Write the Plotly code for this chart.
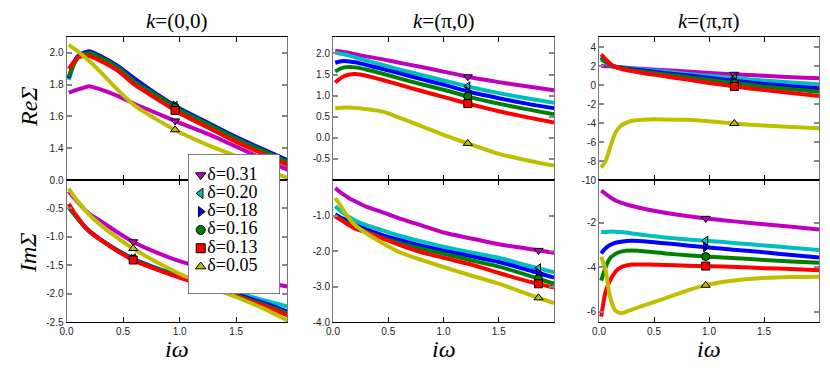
import numpy as np
import plotly.graph_objects as go

# Matsubara frequency grid (iw) shared by every curve
W = [0.02, 0.06, 0.1, 0.15, 0.2, 0.3, 0.45, 0.6, 0.8, 1.0, 1.25, 1.5, 1.75, 2.0]

DELTAS = ["0.31", "0.20", "0.18", "0.16", "0.13", "0.05"]
COLORS = ["#bf00bf", "#00bfbf", "#0000ff", "#008000", "#ff0000", "#bfbf00"]
SYMBOLS = ["triangle-down", "triangle-left", "triangle-right", "circle", "square", "triangle-up"]

# Re Sigma, k=(0,0); rows follow DELTAS
re_00 = [
    [1.75, 1.76, 1.77, 1.78, 1.79, 1.77, 1.73, 1.68, 1.62, 1.56, 1.49, 1.41, 1.33, 1.25],
    [1.83, 1.92, 1.97, 1.99, 2.00, 1.97, 1.91, 1.83, 1.73, 1.65, 1.56, 1.47, 1.38, 1.30],
    [1.84, 1.93, 1.98, 2.00, 2.01, 1.98, 1.92, 1.84, 1.74, 1.65, 1.56, 1.47, 1.39, 1.31],
    [1.85, 1.92, 1.97, 1.99, 2.00, 1.97, 1.91, 1.82, 1.73, 1.64, 1.55, 1.46, 1.38, 1.30],
    [1.90, 1.94, 1.97, 1.98, 1.98, 1.95, 1.89, 1.80, 1.71, 1.62, 1.53, 1.44, 1.36, 1.28],
    [2.05, 2.03, 2.01, 1.98, 1.95, 1.88, 1.77, 1.67, 1.58, 1.50, 1.42, 1.35, 1.27, 1.20],
]
# Im Sigma, k=(0,0)
im_00 = [
    [-0.20, -0.30, -0.39, -0.50, -0.59, -0.72, -0.92, -1.10, -1.28, -1.43, -1.57, -1.69, -1.80, -1.89],
    [-0.46, -0.57, -0.67, -0.79, -0.89, -1.04, -1.23, -1.39, -1.55, -1.68, -1.83, -1.98, -2.12, -2.25],
    [-0.48, -0.58, -0.68, -0.80, -0.90, -1.05, -1.24, -1.40, -1.56, -1.70, -1.86, -2.01, -2.17, -2.35],
    [-0.48, -0.58, -0.68, -0.80, -0.90, -1.05, -1.25, -1.41, -1.57, -1.71, -1.87, -2.03, -2.20, -2.38],
    [-0.42, -0.55, -0.66, -0.80, -0.90, -1.05, -1.25, -1.42, -1.58, -1.72, -1.88, -2.05, -2.22, -2.42],
    [-0.15, -0.27, -0.38, -0.50, -0.61, -0.79, -1.02, -1.22, -1.45, -1.65, -1.86, -2.06, -2.27, -2.52],
]
# Re Sigma, k=(pi,0)
re_p0 = [
    [2.06, 2.05, 2.03, 2.01, 1.98, 1.93, 1.86, 1.78, 1.68, 1.57, 1.43, 1.32, 1.22, 1.13],
    [2.02, 2.00, 1.98, 1.95, 1.91, 1.83, 1.73, 1.62, 1.49, 1.36, 1.20, 1.06, 0.94, 0.83],
    [1.78, 1.81, 1.82, 1.81, 1.79, 1.73, 1.63, 1.53, 1.39, 1.26, 1.08, 0.94, 0.81, 0.70],
    [1.57, 1.63, 1.67, 1.68, 1.67, 1.62, 1.52, 1.41, 1.27, 1.14, 0.96, 0.81, 0.68, 0.56],
    [1.31, 1.40, 1.46, 1.50, 1.51, 1.47, 1.37, 1.26, 1.11, 0.97, 0.79, 0.63, 0.49, 0.36],
    [0.70, 0.71, 0.72, 0.72, 0.71, 0.68, 0.62, 0.48, 0.28, 0.07, -0.16, -0.38, -0.53, -0.66],
]
# Im Sigma, k=(pi,0)
im_p0 = [
    [-0.23, -0.33, -0.42, -0.52, -0.60, -0.75, -0.91, -1.08, -1.28, -1.48, -1.65, -1.81, -1.93, -2.05],
    [-0.74, -0.85, -0.95, -1.05, -1.14, -1.27, -1.42, -1.57, -1.73, -1.88, -2.04, -2.19, -2.40, -2.60],
    [-0.97, -1.04, -1.10, -1.18, -1.26, -1.39, -1.55, -1.69, -1.85, -1.99, -2.15, -2.31, -2.52, -2.75],
    [-1.02, -1.09, -1.16, -1.24, -1.32, -1.46, -1.63, -1.78, -1.94, -2.08, -2.26, -2.44, -2.67, -2.92],
    [-1.02, -1.10, -1.18, -1.28, -1.37, -1.47, -1.65, -1.83, -2.04, -2.19, -2.38, -2.62, -2.84, -3.03],
    [-0.51, -0.68, -0.88, -1.10, -1.27, -1.50, -1.78, -2.03, -2.25, -2.45, -2.69, -2.92, -3.20, -3.47],
]
# Re Sigma, k=(pi,pi)
re_pp = [
    [2.04, 2.02, 2.00, 1.95, 1.90, 1.80, 1.70, 1.60, 1.45, 1.30, 1.15, 1.00, 0.85, 0.74],
    [2.70, 2.40, 2.10, 1.95, 1.88, 1.75, 1.60, 1.45, 1.20, 1.00, 0.75, 0.50, 0.30, 0.10],
    [3.00, 2.60, 2.20, 1.95, 1.85, 1.70, 1.50, 1.30, 1.05, 0.80, 0.45, 0.15, -0.10, -0.32],
    [2.85, 2.50, 2.15, 1.95, 1.80, 1.60, 1.35, 1.15, 0.85, 0.55, 0.20, -0.15, -0.42, -0.67],
    [3.27, 2.75, 2.30, 1.95, 1.75, 1.50, 1.20, 0.95, 0.60, 0.25, -0.15, -0.50, -0.82, -1.13],
    [-8.70, -8.00, -6.60, -5.00, -4.25, -3.75, -3.60, -3.60, -3.65, -3.80, -4.05, -4.25, -4.40, -4.54],
]
# Im Sigma, k=(pi,pi)
im_pp = [
    [-0.56, -0.70, -0.85, -1.00, -1.10, -1.25, -1.42, -1.55, -1.70, -1.82, -1.95, -2.07, -2.18, -2.30],
    [-2.42, -2.42, -2.40, -2.40, -2.42, -2.48, -2.58, -2.66, -2.75, -2.82, -2.92, -3.02, -3.12, -3.23],
    [-3.38, -3.15, -3.00, -2.90, -2.85, -2.81, -2.85, -2.92, -3.02, -3.11, -3.22, -3.33, -3.45, -3.56],
    [-4.60, -4.00, -3.60, -3.40, -3.30, -3.25, -3.30, -3.38, -3.46, -3.53, -3.60, -3.67, -3.74, -3.80],
    [-6.22, -5.10, -4.60, -4.20, -4.00, -3.88, -3.88, -3.90, -3.93, -3.95, -3.99, -4.04, -4.08, -4.13],
    [-3.53, -4.13, -5.33, -5.95, -6.07, -5.90, -5.65, -5.40, -5.05, -4.77, -4.58, -4.48, -4.44, -4.43],
]

# where each panel puts its symbol on the curves (top row, then bottom row)
MARK_W = [0.96, 1.22, 1.23, 0.59, 1.86, 0.97]

PANELS = [re_00, re_p0, re_pp, im_00, im_p0, im_pp]
Y_RANGES = [[1.2, 2.1], [-1.0, 2.39], [-10, 5.1], [-2.5, 0.0], [-4.0, 0.0], [-6.46, -0.08]]
Y_TICKS = [
    [1.4, 1.6, 1.8, 2.0],
    [-0.5, 0.0, 0.5, 1.0, 1.5, 2.0],
    [-10, -8, -6, -4, -2, 0, 2, 4],
    [-2.5, -2.0, -1.5, -1.0, -0.5, 0.0],
    [-4.0, -3.0, -2.0, -1.0],
    [-6, -4, -2],
]
Y_FMT = ["%.1f", "%.1f", "%d", "%.1f", "%.1f", "%d"]
X_MAX = [1.95, 2.0, 2.0]
X_TICKS = [0.0, 0.5, 1.0, 1.5]
COL_TITLES = ["<i>k</i>=(0,0)", "<i>k</i>=(π,0)", "<i>k</i>=(π,π)"]

WIDTH, HEIGHT = 830, 371
OFF = 8  # page body margin: figure starts 8px in from the window corner
COL_PX = [(66.5, 287), (333, 554), (599, 819)]
ROW_PX = [(37, 180), (180, 322)]


def px(x):
    return (x - OFF) / WIDTH


def py(y):
    return 1 - (y - OFF) / HEIGHT


SERIF = "Liberation Serif"
fig = go.Figure()
layout = {}

for p, panel in enumerate(PANELS):
    row, col = divmod(p, 3)
    n = p + 1
    xa, ya = ("x" if n == 1 else f"x{n}"), ("y" if n == 1 else f"y{n}")
    for i, vals in enumerate(panel):
        fig.add_trace(go.Scatter(
            x=W, y=vals, mode="lines", xaxis=xa, yaxis=ya, showlegend=False,
            line=dict(color=COLORS[i], width=4, shape="spline", smoothing=0.6),
        ))
    for i, vals in enumerate(panel):
        fig.add_trace(go.Scatter(
            x=[MARK_W[p]], y=[float(np.interp(MARK_W[p], W, vals))], mode="markers",
            xaxis=xa, yaxis=ya, showlegend=False,
            marker=dict(symbol=SYMBOLS[i], color=COLORS[i], size=8, line=dict(color="black", width=1)),
        ))
    x0, x1 = COL_PX[col]
    y0, y1 = ROW_PX[row]
    layout[f"xaxis{'' if n == 1 else n}"] = dict(
        domain=[px(x0), px(x1)], anchor=ya, range=[0, X_MAX[col]], automargin=False,
        tickvals=X_TICKS, ticktext=["%.1f" % t for t in X_TICKS],
        showticklabels=(row == 1), ticks="inside", ticklen=5, tickcolor="black",
        showline=True, linecolor="black", linewidth=1, mirror="ticks",
        showgrid=False, zeroline=False,
        tickfont=dict(family="Liberation Sans", size=10, color="#222"),
    )
    layout[f"yaxis{'' if n == 1 else n}"] = dict(
        domain=[py(y1), py(y0)], anchor=xa, range=Y_RANGES[p], automargin=False,
        tickvals=Y_TICKS[p], ticktext=[Y_FMT[p] % t for t in Y_TICKS[p]],
        ticks="inside", ticklen=5, tickwidth=2, tickcolor="#888",
        showline=True, linecolor="#777", linewidth=1, mirror="ticks",
        showgrid=False, zeroline=False,
        tickfont=dict(family="Liberation Sans", size=10, color="#222"),
    )

# legend drawn as its own little subplot so it sits over panel (0,0)
LEG_PX = (188, 280, 154, 294)
leg_rows = list(range(len(DELTAS)))
fig.add_trace(go.Scatter(
    x=[12.7] * len(DELTAS), y=leg_rows, mode="markers+text", xaxis="x7", yaxis="y7",
    showlegend=False, text=["δ=" + d for d in DELTAS], textposition="middle right",
    textfont=dict(family=SERIF, size=18, color="black"),
    marker=dict(symbol=SYMBOLS, color=COLORS, size=9, line=dict(color="black", width=1)),
    cliponaxis=False,
))
layout["xaxis7"] = dict(domain=[px(LEG_PX[0]), px(LEG_PX[1])], anchor="y7", range=[0, 92],
                        visible=False, automargin=False)
layout["yaxis7"] = dict(domain=[py(LEG_PX[3]), py(LEG_PX[2])], anchor="x7", range=[6.5, -1.15],
                        visible=False, automargin=False)

shapes = [dict(type="rect", xref="x7", yref="y7", x0=0, x1=92, y0=6.5, y1=-1.15,
               fillcolor="white", line=dict(color="black", width=1), layer="below")]


def label(x, y, text, size, angle=0):
    return dict(x=px(x), y=py(y), xref="paper", yref="paper", text=text, textangle=angle,
                xanchor="center", yanchor="middle", showarrow=False,
                font=dict(family=SERIF, size=size, color="black"))


annotations = []
for col, title in enumerate(COL_TITLES):
    cx = (COL_PX[col][0] + COL_PX[col][1]) / 2
    annotations.append(label(cx, 21, title, 21))
    annotations.append(label(cx, 349, "<i>iω</i>", 24))
annotations.append(label(29, 107, "<i>ReΣ</i>", 24, -90))
annotations.append(label(28, 253, "<i>ImΣ</i>", 24, -90))

fig.update_layout(
    width=WIDTH, height=HEIGHT, margin=dict(l=0, r=0, t=0, b=0),
    paper_bgcolor="white", plot_bgcolor="white",
    shapes=shapes, annotations=annotations, **layout,
)
fig.write_html("out.html")
